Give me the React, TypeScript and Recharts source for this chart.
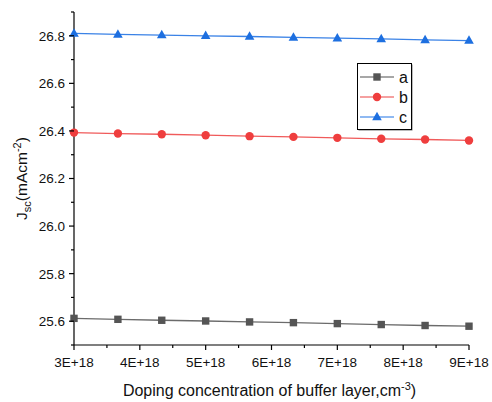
import React from 'react';
import { LineChart, Line, XAxis, YAxis, Legend } from 'recharts';

// Doping concentration of the buffer layer (cm^-3)
const dopingLevels = [3e18, 3.667e18, 4.333e18, 5e18, 5.667e18, 6.333e18, 7e18, 7.667e18, 8.333e18, 9e18];
// Short-circuit current density Jsc (mA/cm^2) for each structure
const seriesA = [25.612, 25.608, 25.604, 25.601, 25.597, 25.594, 25.590, 25.586, 25.582, 25.579];
const seriesB = [26.393, 26.389, 26.386, 26.382, 26.378, 26.375, 26.371, 26.367, 26.364, 26.360];
const seriesC = [26.810, 26.806, 26.803, 26.800, 26.797, 26.793, 26.790, 26.787, 26.783, 26.780];
const seriesNames = ['a', 'b', 'c'];

const xTicks = [3e18, 3.5e18, 4e18, 4.5e18, 5e18, 5.5e18, 6e18, 6.5e18, 7e18, 7.5e18, 8e18, 8.5e18, 9e18];
const yTicks = [25.5, 25.6, 25.7, 25.8, 25.9, 26.0, 26.1, 26.2, 26.3, 26.4, 26.5, 26.6, 26.7, 26.8, 26.9];

const FONT = '"Liberation Sans", Arial, sans-serif';

const styles = [
  { marker: '#555555', line: '#6b6b6b', legendLine: '#8a8a8a', shape: 'square' },
  { marker: '#ef3e3e', line: '#f05a5a', legendLine: '#f28080', shape: 'circle' },
  { marker: '#1d6fe0', line: '#3a82e6', legendLine: '#6aa2ee', shape: 'triangle' },
];

const data = dopingLevels.map((x, i) => ({ x, a: seriesA[i], b: seriesB[i], c: seriesC[i] }));

function Marker({ cx, cy, shape, color }: { cx: number; cy: number; shape: string; color: string }) {
  if (shape === 'square') {
    return <rect x={cx - 3.7} y={cy - 3.7} width={7.4} height={7.4} fill={color} />;
  }
  if (shape === 'circle') {
    return <circle cx={cx} cy={cy} r={4.2} fill={color} />;
  }
  return <polygon points={`${cx},${cy - 5.2} ${cx + 4.8},${cy + 3.3} ${cx - 4.8},${cy + 3.3}`} fill={color} />;
}

const makeDot = (shape: string, color: string) => (props: any) => {
  const { cx, cy, index } = props;
  if (cx == null || cy == null) return <g key={`d-${index}`} />;
  return (
    <g key={`d-${shape}-${index}`}>
      <Marker cx={cx} cy={cy} shape={shape} color={color} />
    </g>
  );
};

const XTick = (props: any) => {
  const { x, y, payload } = props;
  const units = payload.value / 1e18;
  const major = Math.abs(units - Math.round(units)) < 1e-6;
  return (
    <g>
      <line x1={x} x2={x} y1={y} y2={y + (major ? 5 : 3)} stroke="#000" strokeWidth={1.2} />
      {major && (
        <text x={x} y={y + 22} textAnchor="middle" fontSize={13.5} fontFamily={FONT} fill="#111">
          {`${Math.round(units)}E+18`}
        </text>
      )}
    </g>
  );
};

const YTick = (props: any) => {
  const { x, y, payload } = props;
  const tenths = Math.round(payload.value * 10);
  const major = tenths % 2 === 0;
  return (
    <g>
      <line x1={x - (major ? 5 : 3)} x2={x} y1={y} y2={y} stroke="#000" strokeWidth={1.2} />
      {major && (
        <text x={x - 9} y={y} dy="0.36em" textAnchor="end" fontSize={13.5} fontFamily={FONT} fill="#111">
          {payload.value.toFixed(1)}
        </text>
      )}
    </g>
  );
};

const LegendBox = () => (
  <svg width={58} height={70} style={{ display: 'block', overflow: 'visible' }}>
    <rect x={1.5} y={1.5} width={54} height={66} fill="#777" />
    <rect x={0.5} y={0.5} width={54} height={66} fill="#fff" stroke="#000" strokeWidth={1} />
    {seriesNames.map((name, i) => {
      const cy = 14 + i * 20;
      const s = styles[i];
      return (
        <g key={name}>
          <line x1={3} x2={37} y1={cy} y2={cy} stroke={s.legendLine} strokeWidth={1.3} />
          <Marker cx={20} cy={cy} shape={s.shape} color={s.marker} />
          <text x={42} y={cy} dy="0.36em" fontSize={16} fontFamily={FONT} fill="#111">
            {name}
          </text>
        </g>
      );
    })}
  </svg>
);

const YLabel = (props: any) => {
  const vb = props.viewBox || {};
  const cx = 27;
  const cy = (vb.y ?? 12) + (vb.height ?? 333) / 2;
  return (
    <text
      x={cx}
      y={cy}
      transform={`rotate(-90 ${cx} ${cy})`}
      textAnchor="middle"
      fontSize={15.5}
      fontFamily={FONT}
      fill="#111"
    >
      J
      <tspan fontSize={11} dy={4}>sc</tspan>
      <tspan dy={-4}>(mAcm</tspan>
      <tspan fontSize={11} dy={-6}>-2</tspan>
      <tspan dy={6}>)</tspan>
    </text>
  );
};

const XLabel = (props: any) => {
  const vb = props.viewBox || {};
  const cx = (vb.x ?? 74) + (vb.width ?? 395) / 2 - 2;
  return (
    <text x={cx} y={396} textAnchor="middle" fontSize={16} fontFamily={FONT} fill="#111">
      Doping concentration of buffer layer,cm
      <tspan fontSize={11} dy={-6}>-3</tspan>
      <tspan dy={6}>)</tspan>
    </text>
  );
};

export default function App() {
  return (
    <div style={{ position: 'absolute', left: 0, top: 0, width: 492, height: 402, background: '#fff' }}>
      <LineChart width={492} height={402} data={data} margin={{ top: 12, right: 23, bottom: 0, left: 0 }}>
        <XAxis
          dataKey="x"
          type="number"
          domain={[3e18, 9e18]}
          ticks={xTicks}
          interval={0}
          tick={<XTick />}
          tickLine={false}
          tickSize={0}
          tickMargin={0}
          height={57}
          axisLine={{ stroke: '#000', strokeWidth: 1.2 }}
          label={<XLabel />}
        />
        <YAxis
          type="number"
          domain={[25.5, 26.9]}
          ticks={yTicks}
          interval={0}
          allowDataOverflow
          tick={<YTick />}
          tickLine={false}
          tickSize={0}
          tickMargin={0}
          width={74}
          axisLine={{ stroke: '#000', strokeWidth: 1.2 }}
          label={<YLabel />}
        />
        <Legend
          layout="vertical"
          align="center"
          verticalAlign="middle"
          wrapperStyle={{ position: 'absolute', left: 357, top: 63, width: 58, height: 70 }}
          content={() => <LegendBox />}
        />
        {seriesNames.map((key, i) => (
          <Line
            key={key}
            dataKey={key}
            name={key}
            stroke={styles[i].line}
            strokeWidth={1.3}
            dot={makeDot(styles[i].shape, styles[i].marker)}
            activeDot={false}
            isAnimationActive={false}
          />
        ))}
      </LineChart>
    </div>
  );
}
